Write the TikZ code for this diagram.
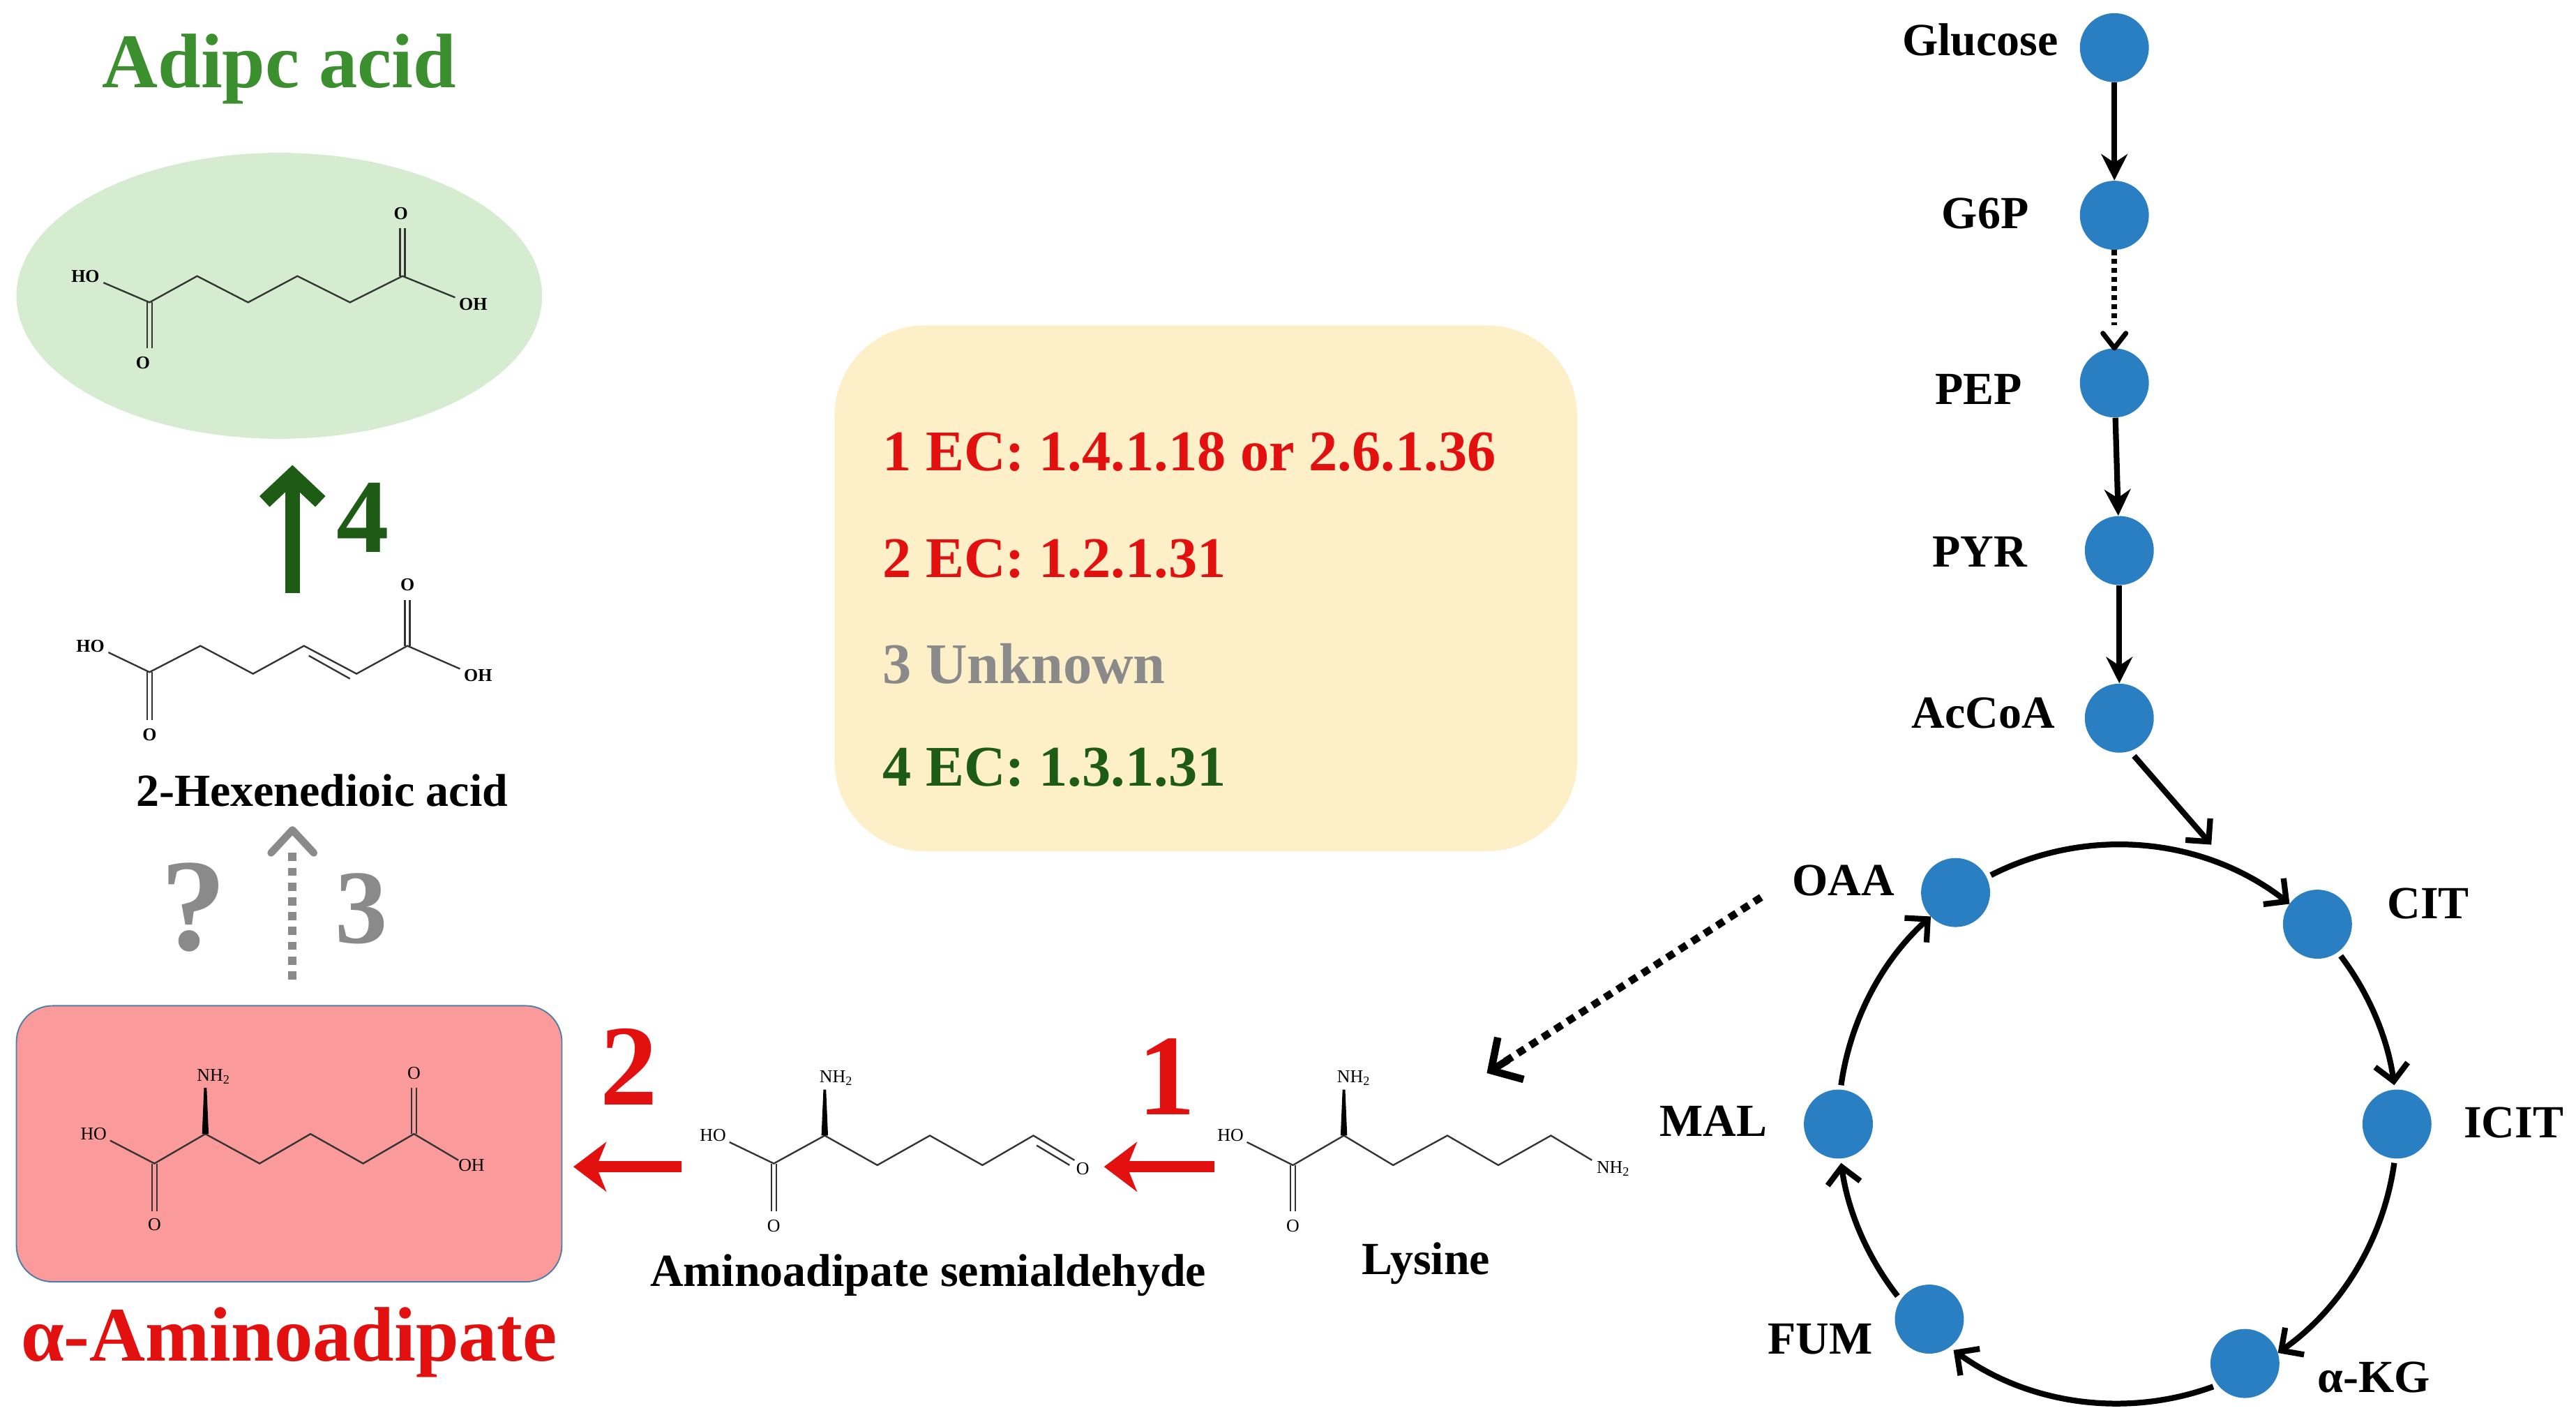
\documentclass[tikz,border=0pt]{standalone}
\usepackage{fontspec}
\setmainfont{Liberation Serif}
\usetikzlibrary{arrows.meta,shapes.geometric}
\definecolor{cred}{HTML}{E31010}
\definecolor{cdg}{HTML}{1E5C16}
\definecolor{cgr}{HTML}{3C8F2E}
\definecolor{cgray}{HTML}{8A8A8A}
\definecolor{cblue}{HTML}{2A7FC2}
\definecolor{cyel}{HTML}{FDEFC8}
\definecolor{cgrn}{HTML}{D5ECD0}
\definecolor{cpink}{HTML}{FA9A9A}
\begin{document}
\begin{tikzpicture}[x=1pt,y=-1pt,
  bond/.style={line width=1pt,black!80},
  atb/.style={font=\fontsize{11}{11}\selectfont\bfseries,inner sep=0pt},
  atn/.style={font=\fontsize{11}{11}\selectfont,inner sep=0pt},
  lbl/.style={font=\fontsize{28}{28}\selectfont\bfseries,inner sep=0pt},
  big/.style={font=\fontsize{47}{47}\selectfont\bfseries,inner sep=0pt},
  num/.style={font=\fontsize{70}{70}\selectfont\bfseries,inner sep=0pt},
  ec/.style={font=\fontsize{35}{35}\selectfont\bfseries,inner sep=0pt,anchor=west},
  met/.style={circle,fill=cblue,minimum size=42pt,inner sep=0pt},
  mlab/.style={font=\fontsize{28}{28}\selectfont\bfseries,inner sep=0pt},
  parr/.style={line width=3.5pt,-{Stealth[length=16pt,width=16pt]}},
  carr/.style={line width=3.5pt,-{Straight Barb[length=10pt,width=20pt,line width=3.5pt]}},
  redarr/.style={cred,line width=7pt,-{Stealth[length=20pt,width=30pt,inset=6pt]}}]
\useasboundingbox (0,0) rectangle (1568,865);
% ---------------- Adipic acid
\node[big,text=cgr] (tadip) at (170,42) {Adipc acid};
\node[ellipse,fill=cgrn,minimum width=320pt,minimum height=174pt] (ell) at (170,180) {};
\node[atb] (a1) at (52,168) {HO};
\node[atb] (a2) at (87,221) {O};
\node[atb] (a3) at (244,130) {O};
\node[atb] (a4) at (288,185) {OH};
\draw[bond] (63,172) -- (91,184) -- (120,168) -- (151,184) -- (181,168) -- (213,184) -- (245,168) -- (277,181);
\draw[bond] (89.5,184) -- (89.5,212) (92.5,184) -- (92.5,212);
\draw[bond] (243.5,168) -- (243.5,139) (246.5,168) -- (246.5,139);
% ---------------- 2-Hexenedioic
\node[atb] (h1) at (55,393) {HO};
\node[atb] (h2) at (91,447) {O};
\node[atb] (h3) at (248,356) {O};
\node[atb] (h4) at (291,411) {OH};
\draw[bond] (66,397) -- (91,409) -- (122,393) -- (154,410) -- (185,393) -- (217,410) -- (248,393) -- (280,407);
\draw[bond] (89.5,409) -- (89.5,438) (92.5,409) -- (92.5,438);
\draw[bond] (246.5,393) -- (246.5,365) (249.5,393) -- (249.5,365);
\draw[bond] (188,399) -- (213,413);
\node[lbl] (thex) at (196,481) {2-Hexenedioic acid};
% green arrow 4
\coordinate (g0) at (178,361);
\coordinate (g1) at (178,283);
\draw[cdg,line width=9pt,-{Straight Barb[length=16pt,width=34pt,line width=9pt]}] (g0) -- (g1);
\node[num,text=cdg,font=\fontsize{64}{64}\selectfont\bfseries] (n4) at (221,315) {4};
% gray ? and 3
\node[num,text=cgray,font=\fontsize{80}{80}\selectfont\bfseries] (nq) at (118,552) {?};
\node[num,text=cgray,font=\fontsize{64}{64}\selectfont\bfseries] (n3) at (220,553) {3};
\coordinate (d0) at (178,596);
\coordinate (d1) at (178,505);
\draw[cgray,line width=5pt,dash pattern=on 5pt off 4pt] (178,596) -- (178,516);
\draw[cgray,line width=4.5pt,line cap=round,line join=round] (165,519) -- (178,505) -- (191,519);
% ---------------- alpha-aminoadipate box
\node[draw=cblue!60!gray,fill=cpink,rounded corners=22pt,minimum width=332pt,minimum height=168pt,line width=0.8pt] (box) at (176,696) {};
\node[atn] (b1) at (57,690) {HO};
\node[atn] (b2) at (94,745) {O};
\node[atn] (b3) at (130,655) {NH\textsubscript{2}};
\node[atn] (b4) at (252,653) {O};
\node[atn] (b5) at (287,709) {OH};
\draw[bond] (67,694) -- (94,708) -- (125,690) -- (158,708) -- (189,690) -- (221,708) -- (252,690) -- (279,706);
\draw[bond] (92.5,708) -- (92.5,737) (95.5,708) -- (95.5,737);
\draw[bond] (250.5,690) -- (250.5,662) (253.5,690) -- (253.5,662);
\fill (123,690) -- (127,690) -- (125.8,662) -- (124.2,662) -- cycle;
\node[big,text=cred] (talpha) at (176,817) {α-Aminoadipate};
% ---------------- semialdehyde
\node[atn] (s1) at (434,691) {HO};
\node[atn] (s2) at (471,746) {O};
\node[atn] (s3) at (509,656) {NH\textsubscript{2}};
\node[atn] (s4) at (659,711) {O};
\draw[bond] (444,695) -- (471,708) -- (502,691) -- (534,709) -- (566,691) -- (598,709) -- (629,691) -- (654,706);
\draw[bond] (469.5,708) -- (469.5,737) (472.5,708) -- (472.5,737);
\draw[bond] (631,697) -- (651,709);
\fill (500,691) -- (504,691) -- (502.8,663) -- (501.2,663) -- cycle;
\node[lbl] (tsemi) at (565,776) {Aminoadipate semialdehyde};
% ---------------- lysine
\node[atn] (l1) at (749,691) {HO};
\node[atn] (l2) at (787,746) {O};
\node[atn] (l3) at (824,656) {NH\textsubscript{2}};
\node[atn] (l4) at (982,711) {NH\textsubscript{2}};
\draw[bond] (759,695) -- (787,709) -- (818,691) -- (848,709) -- (881,691) -- (912,709) -- (944,691) -- (969,706);
\draw[bond] (785.5,709) -- (785.5,737) (788.5,709) -- (788.5,737);
\fill (816,691) -- (820,691) -- (818.8,663) -- (817.2,663) -- cycle;
\node[lbl] (tlys) at (868,769) {Lysine};
% red arrows
\coordinate (r2a) at (415,710); \coordinate (r2b) at (349,710);
\coordinate (r1a) at (739,710); \coordinate (r1b) at (672,710);
\draw[redarr] (r2a) -- (r2b);
\draw[redarr] (r1a) -- (r1b);
\node[num,text=cred] (n2) at (383,649) {2};
\node[num,text=cred] (n1) at (710,655) {1};
% ---------------- yellow box
\node[fill=cyel,rounded corners=55pt,minimum width=452pt,minimum height=320pt] (ybox) at (734,358) {};
\node[ec,text=cred] (e1) at (537,275) {1 EC: 1.4.1.18 or 2.6.1.36};
\node[ec,text=cred] (e2) at (537,340) {2 EC: 1.2.1.31};
\node[ec,text=cgray] (e3) at (537,404) {3 Unknown};
\node[ec,text=cdg] (e4) at (537,467) {4 EC: 1.3.1.31};
% ---------------- glycolysis
\node[met] (glc) at (1287,29) {};
\node[met] (g6p) at (1287,131) {};
\node[met] (pep) at (1287,233) {};
\node[met] (pyr) at (1290,335) {};
\node[met] (acc) at (1290,437) {};
\node[mlab,anchor=east] at (1253,24) {Glucose};
\node[mlab,anchor=east] at (1235,130) {G6P};
\node[mlab,anchor=east] at (1231,237) {PEP};
\node[mlab,anchor=east] at (1234,336) {PYR};
\node[mlab,anchor=east] at (1251,434) {AcCoA};
\draw[parr] (glc) -- (g6p);
\draw[line width=3.5pt,dash pattern=on 3pt off 2.5pt] (g6p.south) -- ([yshift=14pt]pep.north);
\draw[line width=3pt,line cap=round,line join=round] ([xshift=-7pt,yshift=9pt]pep.north) -- (pep.north) -- ([xshift=7pt,yshift=9pt]pep.north);
\draw[parr] (pep) -- (pyr);
\draw[parr] (pyr) -- (acc);
% ---------------- TCA cycle
\begin{scope}[shift={(1289,684)},y=1pt]
  \node[met] (oaa) at (125:172) {};
  \node[met] (cit) at (45:172) {};
  \node[met] (icit) at (0:170) {};
  \node[met] (akg) at (-62:165) {};
  \node[met] (fum) at (-134:165) {};
  \node[met] (mal) at (180:170) {};
  \draw[carr] (117:170) arc (117:52:170);
  \draw[carr] (37:170) arc (37:8:170);
  \draw[carr] (-8:170) arc (-8:-55:170);
  \draw[carr] (-70:170) arc (-70:-126:170);
  \draw[carr] (-142:170) arc (-142:-172:170);
  \draw[carr] (172:170) arc (172:132:170);
\end{scope}
\node[mlab] at (1122,536) {OAA};
\node[mlab] at (1478,550) {CIT};
\node[mlab] at (1530,683) {ICIT};
\node[mlab] at (1445,838) {α-KG};
\node[mlab] at (1108,815) {FUM};
\node[mlab] at (1043,682) {MAL};
\coordinate (ac1) at (1346,514);
\draw[carr] (acc.south east) ++(-6,8) -- (ac1);
\coordinate (do0) at (1072,546);
\coordinate (do1) at (905,653);
\draw[line width=4.5pt,dash pattern=on 5pt off 4pt] (do0) -- (916,646);
\draw[line width=4.5pt,-{Straight Barb[length=14pt,width=30pt,line width=4.5pt]}] (918,645) -- (do1);
\end{tikzpicture}
\end{document}
